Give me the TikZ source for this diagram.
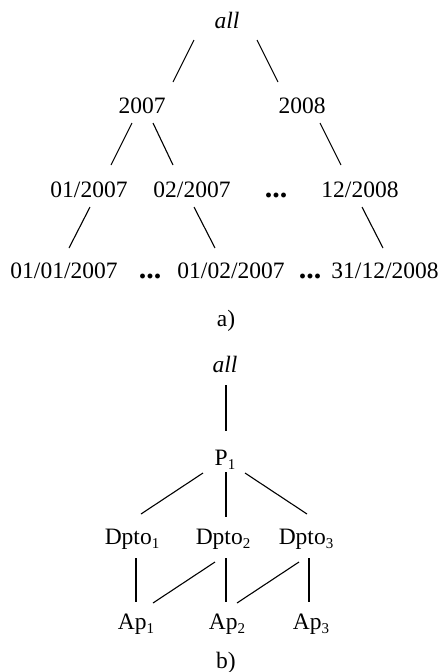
\documentclass[tikz,border=0pt]{standalone}
\usepackage{fontspec}
\setmainfont{Liberation Serif}
\begin{document}
\begin{tikzpicture}[x=1pt,y=-1pt,
  lbl/.style={anchor=base,inner sep=0pt,font=\fontsize{23.5}{28}\selectfont},
  dots/.style={anchor=base,inner sep=0pt,font=\fontsize{30}{34}\selectfont\bfseries},
  edge/.style={line width=1.1pt,line cap=butt}]
\useasboundingbox (0,0) rectangle (440,672);
\newcommand{\sbs}[1]{\raisebox{-0.18em}{\fontsize{15}{18}\selectfont #1}}
% ---- part a
\node[lbl] (allA) at (227,28) {\textit{all}};
\node[lbl] (y2007) at (142,113) {2007};
\node[lbl] (y2008) at (302,113) {2008};
\node[lbl] (m0107) at (89,197) {01/2007};
\node[lbl] (m0207) at (192,197) {02/2007};
\node[dots] (dotsA) at (276,197) {...};
\node[lbl] (m1208) at (360,197) {12/2008};
\node[lbl] (d010107) at (64,278) {01/01/2007};
\node[dots] (dotsB) at (150,278) {...};
\node[lbl] (d010207) at (231,278) {01/02/2007};
\node[dots] (dotsC) at (310,278) {...};
\node[lbl] (d311208) at (385,278) {31/12/2008};
\node[lbl] (capA) at (226,326) {a)};
\draw[edge] ([xshift=-33pt,yshift=-12pt]allA.base) -- ([xshift=31pt,yshift=31pt]y2007.base);
\draw[edge] ([xshift=30pt,yshift=-12pt]allA.base) -- ([xshift=-24pt,yshift=31pt]y2008.base);
\draw[edge] ([xshift=-10pt,yshift=-10pt]y2007.base) -- ([xshift=22pt,yshift=32pt]m0107.base);
\draw[edge] ([xshift=11pt,yshift=-10pt]y2007.base) -- ([xshift=-19pt,yshift=32pt]m0207.base);
\draw[edge] ([xshift=18pt,yshift=-10pt]y2008.base) -- ([xshift=-19pt,yshift=32pt]m1208.base);
\draw[edge] ([xshift=1pt,yshift=-10pt]m0107.base) -- ([xshift=5pt,yshift=30pt]d010107.base);
\draw[edge] ([xshift=2pt,yshift=-10pt]m0207.base) -- ([xshift=-16pt,yshift=30pt]d010207.base);
\draw[edge] ([xshift=2pt,yshift=-10pt]m1208.base) -- ([xshift=-2pt,yshift=30pt]d311208.base);
% ---- part b
\node[lbl] (allB) at (225,372) {\textit{all}};
\node[lbl] (P1) at (225,465) {P\sbs{1}};
\node[lbl] (D1) at (132,544) {Dpto\sbs{1}};
\node[lbl] (D2) at (223,544) {Dpto\sbs{2}};
\node[lbl] (D3) at (306,544) {Dpto\sbs{3}};
\node[lbl] (A1) at (136,629) {Ap\sbs{1}};
\node[lbl] (A2) at (227,629) {Ap\sbs{2}};
\node[lbl] (A3) at (311,629) {Ap\sbs{3}};
\node[lbl] (capB) at (226,668) {b)};
\draw[edge] ([xshift=1pt,yshift=-13pt]allB.base) -- ([xshift=1pt,yshift=34pt]P1.base);
\draw[edge] ([xshift=-22pt,yshift=-8pt]P1.base) -- ([xshift=9pt,yshift=30pt]D1.base);
\draw[edge] ([xshift=1pt,yshift=-7pt]P1.base) -- ([xshift=3pt,yshift=27pt]D2.base);
\draw[edge] ([xshift=20pt,yshift=-8pt]P1.base) -- ([xshift=1pt,yshift=30pt]D3.base);
\draw[edge] ([xshift=4pt,yshift=-14pt]D1.base) -- ([xshift=0pt,yshift=27pt]A1.base);
\draw[edge] ([xshift=-8pt,yshift=-18pt]D2.base) -- ([xshift=17pt,yshift=26pt]A1.base);
\draw[edge] ([xshift=3pt,yshift=-14pt]D2.base) -- ([xshift=-1pt,yshift=27pt]A2.base);
\draw[edge] ([xshift=-7pt,yshift=-18pt]D3.base) -- ([xshift=10pt,yshift=26pt]A2.base);
\draw[edge] ([xshift=3pt,yshift=-14pt]D3.base) -- ([xshift=-2pt,yshift=27pt]A3.base);
\end{tikzpicture}
\end{document}
